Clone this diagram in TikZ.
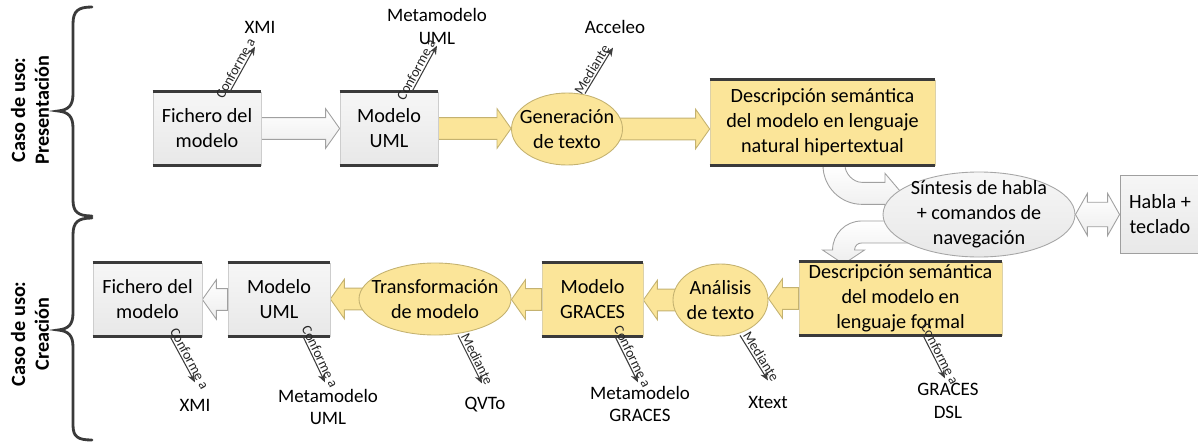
\documentclass[tikz,border=0pt]{standalone}
\usepackage{fontspec}
\setmainfont{Carlito}
\usetikzlibrary{calc,shapes.geometric,backgrounds,arrows.meta}
\definecolor{ylw}{RGB}{251,229,153}
\definecolor{ylwd}{RGB}{196,178,112}
\definecolor{gbox}{RGB}{232,232,232}
\definecolor{gboxtop}{RGB}{246,246,246}
\definecolor{gside}{RGB}{205,205,205}
\definecolor{rulec}{RGB}{58,58,58}
\definecolor{garrow}{RGB}{160,160,160}
\definecolor{annc}{RGB}{60,60,60}
\newcommand\pxu{0.02cm}
\tikzset{
 mainfont/.style={font=\fontsize{11.5}{14.2}\selectfont},
 gbx/.style={rectangle, draw=gside, line width=0.4pt, top color=gboxtop, bottom color=gbox, inner sep=0pt, align=center, mainfont},
 hbx/.style={rectangle, draw=gray!75, line width=0.5pt, top color=gboxtop, bottom color=gbox, inner sep=0pt, align=center, mainfont},
 ybx/.style={rectangle, draw=ylwd!60, line width=0.4pt, fill=ylw, inner sep=0pt, align=center, mainfont},
 yell/.style={ellipse, draw=ylwd, line width=0.5pt, fill=ylw, inner sep=0pt},
 gell/.style={ellipse, draw=gray!70, line width=0.5pt, top color=gboxtop, bottom color=gbox, inner sep=0pt},
 etext/.style={align=center, inner sep=0pt, mainfont},
 rulel/.style={draw=rulec, line width=1.6pt},
 yarr/.style={fill=ylw, draw=ylwd, line width=0.5pt},
 garr/.style={top color=white, bottom color=gray!14, draw=garrow, line width=0.5pt},
 ann/.style={draw=annc, line width=0.6pt, -{Stealth[length=5pt,width=4pt]}},
 annlab/.style={sloped, above, inner sep=0.8pt, font=\fontsize{8}{9}\selectfont, text=black!85},
 tgt/.style={align=center, inner sep=0pt, font=\fontsize{10.8}{13}\selectfont},
 side/.style={rotate=90, align=center, inner sep=0pt, font=\bfseries\fontsize{11.5}{13.6}\selectfont},
 brc/.style={draw=rulec, line width=1.6pt, line cap=round}
}
\newcommand\fatarr[4]{%
 \path[#1] let \p1=(#2), \p2=(#3) in
 (\x1,{\y1+6.2pt}) -- ({\x2-(#4)},{\y1+6.2pt}) -- ({\x2-(#4)},{\y1+11.3pt}) -- (\x2,\y1)
 -- ({\x2-(#4)},{\y1-11.3pt}) -- ({\x2-(#4)},{\y1-6.2pt}) -- (\x1,{\y1-6.2pt}) -- cycle;}
\newcommand\dblarr[3]{%
 \path[#1] let \p1=(#2), \p2=(#3) in
 (\x1,\y1) -- ({\x1+6.8pt},{\y1+12pt}) -- ({\x1+6.8pt},{\y1+7pt}) -- ({\x2-6.8pt},{\y1+7pt})
 -- ({\x2-6.8pt},{\y1+12pt}) -- (\x2,\y1) -- ({\x2-6.8pt},{\y1-12pt}) -- ({\x2-6.8pt},{\y1-7pt})
 -- ({\x1+6.8pt},{\y1-7pt}) -- ({\x1+6.8pt},{\y1-12pt}) -- cycle;}
\newcommand\rules[1]{%
 \draw[rulel] (#1.north west) -- (#1.north east);
 \draw[rulel] (#1.south west) -- (#1.south east);}
\begin{document}
\begin{tikzpicture}[x=0.02cm, y=-0.02cm]
\useasboundingbox (0,0) rectangle (1198,443);

% side labels and braces
\node[side] (uc1) at (30,110) {Caso de uso:\\Presentación};
\node[side] (uc2) at (30,334) {Caso de uso:\\Creación};
\draw[brc] (92,7) .. controls (78,7) and (73,11) .. (73,24) -- (73,94)
  .. controls (73,106) and (68,110) .. (58,111) .. controls (68,112) and (73,116) .. (73,128)
  -- (73,200) .. controls (73,212) and (78,216) .. (92,216);
\draw[brc] (92,218) .. controls (78,218) and (73,222) .. (73,235) -- (73,313)
  .. controls (73,325) and (68,329) .. (58,330) .. controls (68,331) and (73,335) .. (73,347)
  -- (73,425) .. controls (73,437) and (78,440) .. (92,440);

% top row
\node[gbx, minimum width=108*\pxu, minimum height=73*\pxu] (f1) at (207,128.5) {Fichero del\\modelo};
\node[gbx, minimum width=98*\pxu, minimum height=73*\pxu] (m1) at (389,128.5) {Modelo\\UML};
\node[yell, minimum width=111*\pxu, minimum height=72*\pxu] (g1) at (567,129) {};
\node[etext] (g1t) at (g1) {Generación\\de texto};
\node[ybx, minimum width=225*\pxu, minimum height=85*\pxu] (d1) at (822.5,122.5) {Descripción semántica\\del modelo en lenguaje\\natural hipertextual};
\rules{f1}\rules{m1}\rules{d1}

% middle
\node[gell, minimum width=192*\pxu, minimum height=85*\pxu] (s) at (979,214.5) {};
\node[etext] (st) at (s) {Síntesis de habla\\+ comandos de\\navegación};
\node[hbx, minimum width=80*\pxu, minimum height=78*\pxu] (h) at (1160,214) {Habla +\\teclado};

% bottom row
\node[gbx, minimum width=109*\pxu, minimum height=73*\pxu] (f2) at (147.5,299.5) {Fichero del\\modelo};
\node[gbx, minimum width=102*\pxu, minimum height=73*\pxu] (m2) at (279,299.5) {Modelo\\UML};
\node[yell, minimum width=152*\pxu, minimum height=72*\pxu] (t2) at (435,299) {};
\node[etext] (t2t) at (t2) {Transformación\\de modelo};
\node[ybx, minimum width=101*\pxu, minimum height=73*\pxu] (g2) at (592.5,299.5) {Modelo\\GRACES};
\node[yell, minimum width=95*\pxu, minimum height=72*\pxu] (a2) at (720.5,300) {};
\node[etext] (a2t) at (a2) {Análisis\\de texto};
\node[ybx, minimum width=203*\pxu, minimum height=73*\pxu] (d2) at (900.5,298.5) {Descripción semántica\\del modelo en\\lenguaje formal};
\rules{f2}\rules{m2}\rules{g2}\rules{d2}

% fat arrows
\begin{pgfonlayer}{background}
\fatarr{garr}{f1.east}{m1.west}{8pt}
\fatarr{yarr}{m1.east}{g1.west}{8pt}
\fatarr{yarr}{$(g1.east)+(-4,0)$}{d1.west}{8pt}
\fatarr{yarr}{d2.west}{a2.east}{-8pt}
\fatarr{yarr}{$(a2.west)+(4,0)$}{g2.east}{-8pt}
\fatarr{yarr}{g2.west}{t2.east}{-8pt}
\fatarr{yarr}{$(t2.west)+(4,0)$}{m2.east}{-8pt}
\fatarr{garr}{m2.west}{f2.east}{-8pt}
\dblarr{garr}{s.east}{h.west}
\draw[garr] ($(d1.south)+(0.5,0)$) .. controls +(0,21.5) and +(-21.5,0) .. ++(39,39)
  -- ++(23,0) -- ++(0,9) -- ++(17,-20) -- ++(-17,-20) -- ++(0,9) -- ++(-23,0)
  .. controls +(-9.4,0) and +(0,7.6) .. ++(-17,-17) -- cycle;
\draw[garr] ($(s.west)+(32,6.5)$) -- ++(-53,0) .. controls +(-16,0) and +(0,-16) .. ++(-29,29)
  -- ++(-10,0) -- ++(21,14) -- ++(21,-14) -- ++(-10,0)
  .. controls +(0,-4) and +(-4,0) .. ++(7,-7) -- ++(53,0) -- cycle;
\end{pgfonlayer}

% annotation targets
\node[tgt] (xmi1) at (260,27) {XMI};
\node[tgt] (mmu1) at (437,26.5) {Metamodelo\\UML};
\node[tgt] (acc1) at (615,27) {Acceleo};
\node[tgt] (xmi2) at (195,405) {XMI};
\node[tgt] (mmu2) at (328,407) {Metamodelo\\UML};
\node[tgt] (qvto) at (485,405) {QVTo};
\node[tgt] (mmg2) at (640,404) {Metamodelo\\GRACES};
\node[tgt] (xtxt) at (768,402) {Xtext};
\node[tgt] (dsl2) at (948,401) {GRACES\\DSL};

% annotation arrows
\draw[ann] ($(f1.north)+(23,0)$) -- node[annlab, pos=0.45]{Conforme a} ++(25,-45);
\draw[ann] ($(m1.north)+(23,0)$) -- node[annlab, pos=0.4]{Conforme a} ++(25,-46);
\draw[ann] ($(g1.north)+(18,1)$) -- node[annlab, pos=0.45]{Mediante} ++(28,-46);
\draw[ann] ($(f2.south)+(22.5,0)$) -- node[annlab, pos=0.55]{Conforme a} ++(25,46);
\draw[ann] ($(m2.south)+(24,0)$) -- node[annlab, pos=0.5]{Conforme a} ++(22,46);
\draw[ann] ($(t2.south)+(23,0)$) -- node[annlab, pos=0.55]{Mediante} ++(24,48);
\draw[ann] ($(g2.south)+(22.5,0)$) -- node[annlab, pos=0.5]{Conforme a} ++(23,46);
\draw[ann] ($(a2.south)+(19.5,-1)$) -- node[annlab, pos=0.55]{Mediante} ++(28,45);
\draw[ann] ($(d2.south)+(22.5,0)$) -- node[annlab, pos=0.5]{Conforme a} ++(22,43);
\end{tikzpicture}
\end{document}
